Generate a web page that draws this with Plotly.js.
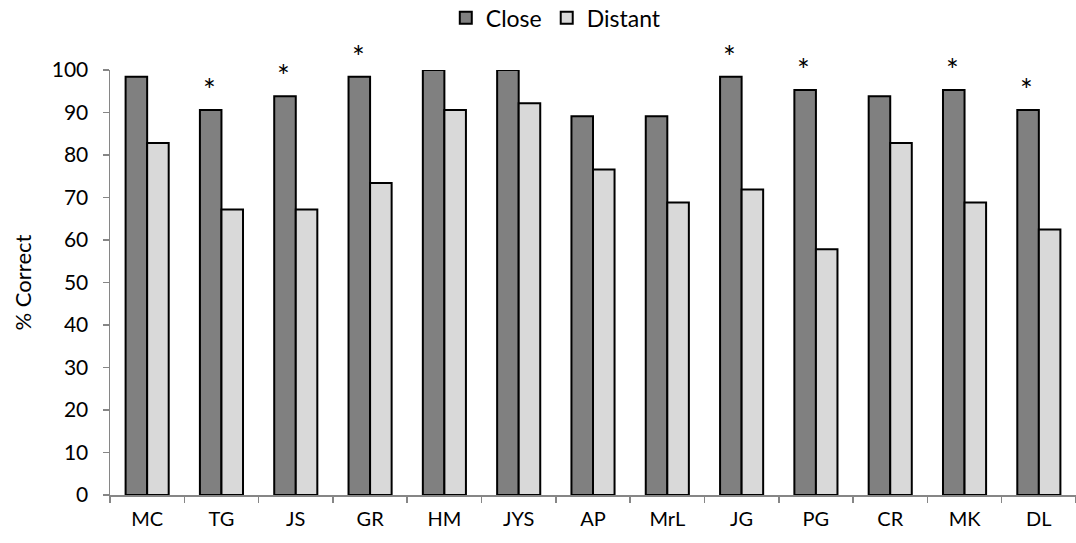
<!DOCTYPE html>
<html>
<head>
<meta charset="utf-8">
<script src="https://cdn.plot.ly/plotly-3.0.1.min.js"></script>
<style>html,body{margin:0;padding:0;background:#fff;}#chart{width:1076px;height:543px;}</style>
</head>
<body>
<div id="chart"></div>
<script>
const categories = ["MC","TG","JS","GR","HM","JYS","AP","MrL","JG","PG","CR","MK","DL"];
const closeVals = [98.4, 90.6, 93.8, 98.4, 100, 100, 89.1, 89.1, 98.4, 95.3, 93.8, 95.3, 90.6];
const distantVals = [82.8, 67.2, 67.2, 73.4, 90.6, 92.2, 76.6, 68.8, 71.9, 57.8, 82.8, 68.8, 62.5];
const significant = [false, true, true, true, false, false, false, false, true, true, false, true, true];
const yTicks = [0,10,20,30,40,50,60,70,80,90,100];

const FONT = "Lato, 'Open Sans', sans-serif";

const traces = [
  {type:"bar", name:"Close", x:categories, y:closeVals,
   marker:{color:"#808080", line:{color:"#000", width:2}}},
  {type:"bar", name:"Distant", x:categories, y:distantVals,
   marker:{color:"#d9d9d9", line:{color:"#000", width:2}}}
];

const annotations = [];
categories.forEach((c,i)=>{
  if(significant[i]){
    annotations.push({x:c, y:closeVals[i], xref:"x", yref:"y", text:"*", showarrow:false,
      xshift:-12, yshift:1, yanchor:"bottom", font:{family:FONT, size:30, color:"#000"}});
  }
});

const layout = {
  width:1076, height:543,
  margin:{l:110, r:0, t:70, b:48},
  paper_bgcolor:"#fff", plot_bgcolor:"#fff",
  barmode:"group", bargap:0.42, bargroupgap:0,
  font:{family:FONT, size:20, color:"#000"},
  showlegend:true,
  legend:{orientation:"h", xref:"container", yref:"container", x:0.517, xanchor:"center",
          y:0.967, yanchor:"middle",
          font:{family:FONT, size:23, color:"#000"}, itemwidth:30, tracegroupgap:0},
  xaxis:{type:"category", showline:true, linecolor:"#868686", linewidth:1.5,
         ticks:"outside", tickson:"boundaries", ticklen:6, tickcolor:"#868686", tickwidth:1.5,
         showgrid:false, zeroline:false, tickfont:{family:FONT, size:20}, ticklabelstandoff:5,
         fixedrange:true},
  yaxis:{range:[0,100], tickvals:yTicks, showline:true, linecolor:"#868686", linewidth:1.5,
         ticks:"outside", ticklen:6, tickcolor:"#868686", tickwidth:1.5,
         showgrid:false, zeroline:false, tickfont:{family:FONT, size:21}, ticklabelstandoff:10,
         title:{text:"% Correct", font:{family:FONT, size:22}, standoff:14}},
  annotations:annotations
};

Plotly.newPlot("chart", traces, layout, {displayModeBar:false, staticPlot:true});
</script>
</body>
</html>
